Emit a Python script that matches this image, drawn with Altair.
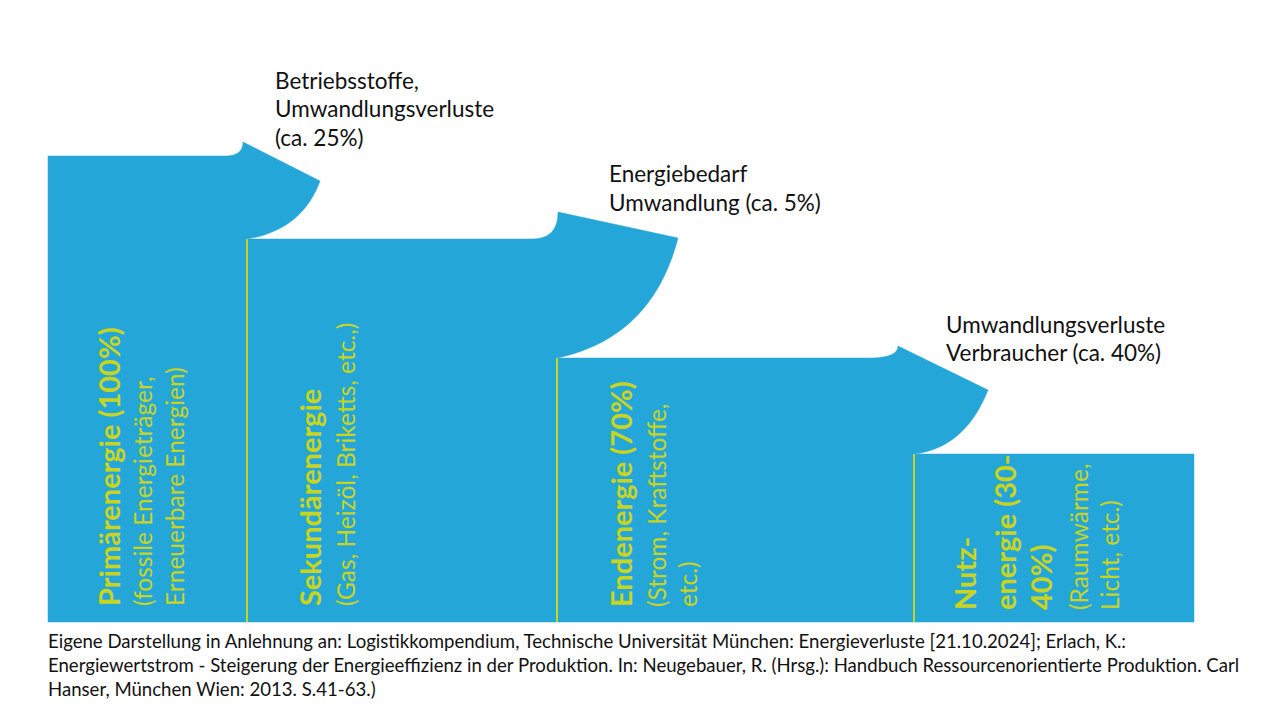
import altair as alt
import pandas as pd

# ---------------- data (diagram read in page pixels) ----------------
BLUE = "#25A6D8"
GREEN = "#C8D41E"
BASE = 622

stage_names = ["Primärenergie", "Sekundärenergie", "Endenergie", "Nutzenergie"]
stage_left = [48, 247, 557, 914]
stage_right = [247, 557, 914, 1194]
stage_top = [156, 239, 358, 454]

# loss tongues between consecutive stages
loss_bite_start = [225, 532, 868]
loss_peak_x = [243, 558, 898]
loss_peak_y = [142, 212, 346]
loss_tip_x = [320, 678, 988]
loss_tip_y = [181, 238, 390]
loss_ctrl_x = [302, 652, 965]
loss_ctrl_y = [230, 338, 448]

# annotation texts
ann_text = ["Betriebsstoffe,", "Umwandlungsverluste", "(ca. 25%)",
            "Energiebedarf", "Umwandlung (ca. 5%)",
            "Umwandlungsverluste", "Verbraucher (ca. 40%)"]
ann_x = [275, 275, 275, 609, 609, 946, 946]
ann_y = [82, 110, 139, 175, 204, 326, 354]

foot_text = [
    "Eigene Darstellung in Anlehnung an: Logistikkompendium, Technische Universität München: Energieverluste [21.10.2024]; Erlach, K.:",
    "Energiewertstrom - Steigerung der Energieeffizienz in der Produktion. In: Neugebauer, R. (Hrsg.): Handbuch Ressourcenorientierte Produktion. Carl",
    "Hanser, München Wien: 2013. S.41-63.)",
]
foot_x = [48, 48, 48]
foot_y = [642, 666, 690]

lab_text = ["Primärenergie (100%)", "(fossile Energieträger,", "Erneuerbare Energien)",
            "Sekundärenergie", "(Gas, Heizöl, Briketts, etc.,)",
            "Endenergie (70%)", "(Strom, Kraftstoffe,", "etc.)",
            "Nutz-", "energie (30-", "40%)", "(Raumwärme,", "Licht, etc.)"]
lab_bold = [True, False, False, True, False, True, False, False,
            True, True, True, False, False]
lab_x = [111, 145, 177, 312, 348, 623, 659, 690, 967, 1007, 1043, 1081, 1112]
lab_y = [606, 606, 606, 606, 606, 607, 607, 607, 610, 610, 610, 610, 610]


# ---------------- geometry helpers ----------------
def quad(p0, c, p1, n=24):
    pts = []
    for i in range(1, n + 1):
        t = i / n
        x = (1 - t) ** 2 * p0[0] + 2 * (1 - t) * t * c[0] + t ** 2 * p1[0]
        y = (1 - t) ** 2 * p0[1] + 2 * (1 - t) * t * c[1] + t ** 2 * p1[1]
        pts.append([x, y])
    return pts


outline = [[stage_left[0], BASE], [stage_left[0], stage_top[0]]]
for i in range(3):
    start = [loss_bite_start[i], stage_top[i]]
    peak = [loss_peak_x[i], loss_peak_y[i]]
    tip = [loss_tip_x[i], loss_tip_y[i]]
    end = [stage_left[i + 1], stage_top[i + 1]]
    outline.append(start)
    outline += quad(start, [peak[0], start[1]], peak, 12)
    outline.append(tip)
    outline += quad(tip, [loss_ctrl_x[i], loss_ctrl_y[i]], end, 30)
outline.append([stage_right[3], stage_top[3]])
outline.append([stage_right[3], BASE])
outline.append([stage_left[0], BASE])

shape_feature = {
    "type": "Feature",
    "properties": {"name": "flow"},
    "geometry": {"type": "Polygon", "coordinates": [outline]},
}
sep_features = [
    {
        "type": "Feature",
        "properties": {"name": stage_names[i]},
        "geometry": {"type": "LineString",
                     "coordinates": [[stage_left[i], stage_top[i]], [stage_left[i], BASE]]},
    }
    for i in range(1, 4)
]

proj = alt.Projection(type="identity", scale=1, translate=[-8, -8])

shape = alt.Chart(alt.Data(values=[shape_feature])).mark_geoshape(
    fill=BLUE, stroke=BLUE, strokeWidth=0.5
).project(**proj.to_dict())

seps = alt.Chart(alt.Data(values=sep_features)).mark_geoshape(
    filled=False, stroke=GREEN, strokeWidth=2
).project(**proj.to_dict())

ann_df = pd.DataFrame({"text": ann_text, "x": ann_x, "y": ann_y})
ann = alt.Chart(ann_df).mark_text(
    align="left", baseline="middle", font="Lato", fontSize=22.5, color="#111111"
).encode(longitude="x:Q", latitude="y:Q", text="text:N").project(**proj.to_dict())

foot_df = pd.DataFrame({"text": foot_text, "x": foot_x, "y": foot_y})
foot = alt.Chart(foot_df).mark_text(
    align="left", baseline="middle", font="Lato", fontSize=18.6, color="#111111"
).encode(longitude="x:Q", latitude="y:Q", text="text:N").project(**proj.to_dict())

lab_df = pd.DataFrame({"text": lab_text, "x": lab_x, "y": lab_y, "bold": lab_bold})
lab_b = alt.Chart(lab_df).transform_filter("datum.bold").mark_text(
    align="left", baseline="middle", font="Lato", fontSize=29, fontWeight="bold",
    angle=270, color=GREEN
).encode(longitude="x:Q", latitude="y:Q", text="text:N").project(**proj.to_dict())
lab_r = alt.Chart(lab_df).transform_filter("!datum.bold").mark_text(
    align="left", baseline="middle", font="Lato", fontSize=24.5,
    angle=270, color=GREEN
).encode(longitude="x:Q", latitude="y:Q", text="text:N").project(**proj.to_dict())

chart = alt.layer(shape, seps, ann, foot, lab_b, lab_r).properties(
    width=1264, height=704, autosize=alt.AutoSizeParams(type="none"), padding=0,
    background="white"
).configure_view(stroke=None)

chart.save("out.html", embed_options={"renderer": "svg", "actions": False})
